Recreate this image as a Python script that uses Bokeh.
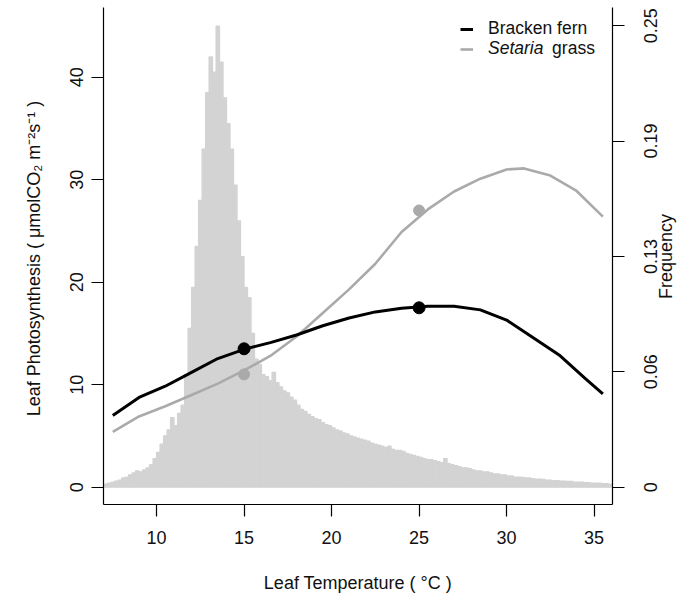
import numpy as np
from bokeh.plotting import figure
from bokeh.models import (Range1d, LinearAxis, FixedTicker, Legend, LegendItem,
                          Label, ColumnDataSource)
from bokeh.embed import file_html
from bokeh.resources import INLINE

# ---------------- data ----------------
# histogram of leaf temperature (bin width 0.2 degC, starting 7.0 degC); frequency in per-mille
hist_start = 7.0
hist_width = 0.2
hist_permille = [
    1.7, 2.2, 2.8, 3.3, 3.9, 5.0, 5.5, 6.7, 7.8, 8.9,
    8.3, 9.4, 10.5, 12.2, 15.5, 18.9, 23.3, 27.8, 31.1, 37.7,
    33.3, 40.0, 44.4, 61.0, 86.0, 108.2, 130.4, 155.4, 183.2, 213.7,
    233.1, 224.8, 249.8, 230.3, 210.9, 197.0, 183.2, 163.7, 144.3, 124.9,
    108.2, 102.7, 83.3, 69.4, 66.6, 61.0, 59.9, 57.7, 62.2, 56.6,
    54.4, 52.2, 51.1, 48.8, 47.2, 44.4, 42.2, 41.1, 39.4, 38.3,
    37.2, 36.6, 35.0, 33.9, 33.3, 32.2, 31.1, 30.5, 29.4, 28.9,
    27.8, 27.2, 26.6, 26.1, 25.5, 25.0, 23.9, 23.3, 22.8, 22.2,
    21.6, 22.2, 20.5, 20.0, 20.0, 19.4, 18.3, 17.8, 17.2, 16.7,
    16.1, 15.5, 15.0, 15.0, 14.4, 13.9, 13.3, 15.5, 12.8, 12.2,
    11.7, 11.1, 10.5, 10.5, 10.0, 9.4, 8.9, 8.9, 8.3, 8.3,
    7.8, 7.2, 7.2, 6.7, 6.7, 6.1, 6.1, 5.5, 5.5, 5.3,
    5.0, 5.0, 4.7, 4.4, 4.4, 4.2, 3.9, 3.9, 3.6, 3.6,
    3.3, 3.3, 3.1, 3.1, 2.8, 2.8, 2.8, 2.5, 2.5, 2.2,
    2.2, 2.2, 1.9, 1.9, 1.7,
]

curve_temp = [7.5, 9.0, 10.5, 12.0, 13.5, 15.0, 16.5, 18.0, 19.5, 21.0,
              22.5, 24.0, 25.5, 27.0, 28.5, 30.0, 31.5, 33.0, 34.5, 35.5]
bracken = [7.0, 8.75, 9.85, 11.2, 12.55, 13.45, 14.1, 14.85, 15.75, 16.5,
           17.1, 17.45, 17.65, 17.65, 17.3, 16.3, 14.6, 12.9, 10.6, 9.1]

setaria_temp = [7.5, 9.0, 10.5, 12.0, 13.5, 15.0, 16.5, 18.0, 19.5, 21.0,
                22.5, 24.0, 25.5, 27.0, 28.5, 30.0, 31.0, 32.5, 34.0, 35.5]
setaria = [5.4, 6.9, 7.9, 9.0, 10.1, 11.4, 12.8, 14.7, 17.0, 19.3,
           21.8, 24.9, 27.1, 28.85, 30.1, 31.0, 31.1, 30.4, 28.9, 26.4]

obs_temp = [15, 25]
bracken_obs = [13.5, 17.5]
setaria_obs = [11.0, 27.0]

x_ticks = [10, 15, 20, 25, 30, 35]
y_ticks = [0, 10, 20, 30, 40]
freq_ticks = [0, 0.0625, 0.125, 0.1875, 0.25]
freq_tick_labels = ["0", "0.06", "0.13", "0.19", "0.25"]
freq_title_pos = 0.125

# ---------------- figure ----------------
FONT = "Liberation Sans"
FS_PX = 18
FS = f"{FS_PX}px"
LFS = "17.5px"
GREY = "#aaaaaa"
HIST = "#d3d3d3"
TXT = "#111111"

Y0, Y1 = -1.69, 46.8
FREQ_SCALE = 180.1
FRAME_H = 497.0
PX_PER_FREQ = FRAME_H / ((Y1 - Y0) / FREQ_SCALE)

p = figure(width=690, height=603, output_backend="svg", toolbar_location=None,
           x_range=Range1d(6.97, 36.05), y_range=Range1d(Y0, Y1),
           min_border_left=103, min_border_right=78, min_border_top=7,
           min_border_bottom=99, x_axis_location=None, y_axis_location=None)
p.outline_line_color = None
p.grid.grid_line_color = None
p.background_fill_color = "white"
p.border_fill_color = "white"

p.extra_y_ranges = {"freq": Range1d(Y0 / FREQ_SCALE, Y1 / FREQ_SCALE)}

# histogram
freq = np.array(hist_permille) / 1000.0
left = hist_start + hist_width * np.arange(len(freq))
hsrc = ColumnDataSource(dict(left=left, right=left + hist_width, top=freq,
                             bottom=np.zeros_like(freq)))
p.quad(left="left", right="right", top="top", bottom="bottom", source=hsrc,
       fill_color=HIST, line_color=HIST, line_width=1.2, y_range_name="freq")

# curves
r_set = p.line(setaria_temp, setaria, line_color=GREY, line_width=2.6)
r_br = p.line(curve_temp, bracken, line_color="black", line_width=3)
p.scatter(obs_temp, setaria_obs, size=11, fill_color=GREY, line_color=GREY)
p.scatter(obs_temp, bracken_obs, size=12, fill_color="black", line_color="black")

# axes
def style(ax, ticks, minor=()):
    ax.ticker = FixedTicker(ticks=list(ticks), minor_ticks=list(minor))
    ax.axis_line_color = "black"
    ax.axis_line_width = 1.2
    ax.major_tick_line_color = "black"
    ax.major_tick_line_width = 1.2
    ax.major_tick_out = 12
    ax.major_tick_in = 0
    ax.minor_tick_line_color = None
    ax.major_label_text_font = FONT
    ax.major_label_text_font_size = FS
    ax.major_label_text_color = TXT
    ax.axis_label_text_font = FONT
    ax.axis_label_text_font_size = FS
    ax.axis_label_text_font_style = "normal"
    ax.axis_label_text_color = TXT

def half_len_freq(s):
    # half the advance width of a rotated label, in frequency units (Arial metrics)
    w = {".": 0.278}
    em = sum(w.get(c, 0.556) for c in s)
    return em * FS_PX / 2.0 / PX_PER_FREQ

xa = LinearAxis(axis_label="Leaf Temperature ( °C )")
style(xa, x_ticks)
xa.major_label_standoff = 14
xa.axis_label_standoff = 26
p.add_layout(xa, "below")

ya = LinearAxis(axis_label="Leaf Photosynthesis  ( μmolCO₂ m⁻²s⁻¹ )")
style(ya, y_ticks)
ya.major_label_orientation = "vertical"
ya.major_label_standoff = 8
ya.axis_label_standoff = 24
p.add_layout(ya, "left")

# right axis: rotated labels start at their anchor, so anchors are moved down by
# half a label length; visible tick marks are drawn as minor ticks at the true values
label_pos = [t - half_len_freq(l) for t, l in zip(freq_ticks, freq_tick_labels)]
ra = LinearAxis(y_range_name="freq")
style(ra, label_pos, freq_ticks)
ra.major_tick_line_color = None
ra.minor_tick_line_color = "black"
ra.minor_tick_line_width = 1.2
ra.minor_tick_out = 12
ra.minor_tick_in = 0
ra.major_label_overrides = {t: l for t, l in zip(label_pos, freq_tick_labels)}
ra.major_label_orientation = np.pi / 2
ra.major_label_standoff = 26
p.add_layout(ra, "right")

# "Frequency" title: single vertical label of a bare outer axis
title_pos = freq_title_pos - 4.724 * FS_PX / 2.0 / PX_PER_FREQ
ft = LinearAxis(y_range_name="freq")
style(ft, [title_pos])
ft.major_label_overrides = {title_pos: "Frequency"}
ft.axis_line_color = None
ft.major_tick_line_color = None
ft.major_tick_out = 0
ft.major_label_orientation = np.pi / 2
ft.major_label_standoff = 0
p.add_layout(ft, "right")

# legend
def make_legend(label, rend, loc, style_):
    lg = Legend(items=[LegendItem(label=label, renderers=[rend])], location=loc,
                border_line_color=None, background_fill_alpha=0,
                padding=0, margin=0, spacing=0, glyph_width=13, glyph_height=20,
                label_height=20, label_standoff=15,
                label_text_font=FONT, label_text_font_size=LFS,
                label_text_font_style=style_, label_text_color=TXT)
    p.add_layout(lg)

make_legend("Bracken fern", r_br, (357, 465), "normal")
make_legend("Setaria", r_set, (357, 445), "italic")
p.add_layout(Label(x=32.6, y=42.8, text="grass", text_font=FONT,
                   text_font_size=LFS, text_color=TXT, text_baseline="middle"))

open("out.html", "w").write(file_html(p, INLINE))
